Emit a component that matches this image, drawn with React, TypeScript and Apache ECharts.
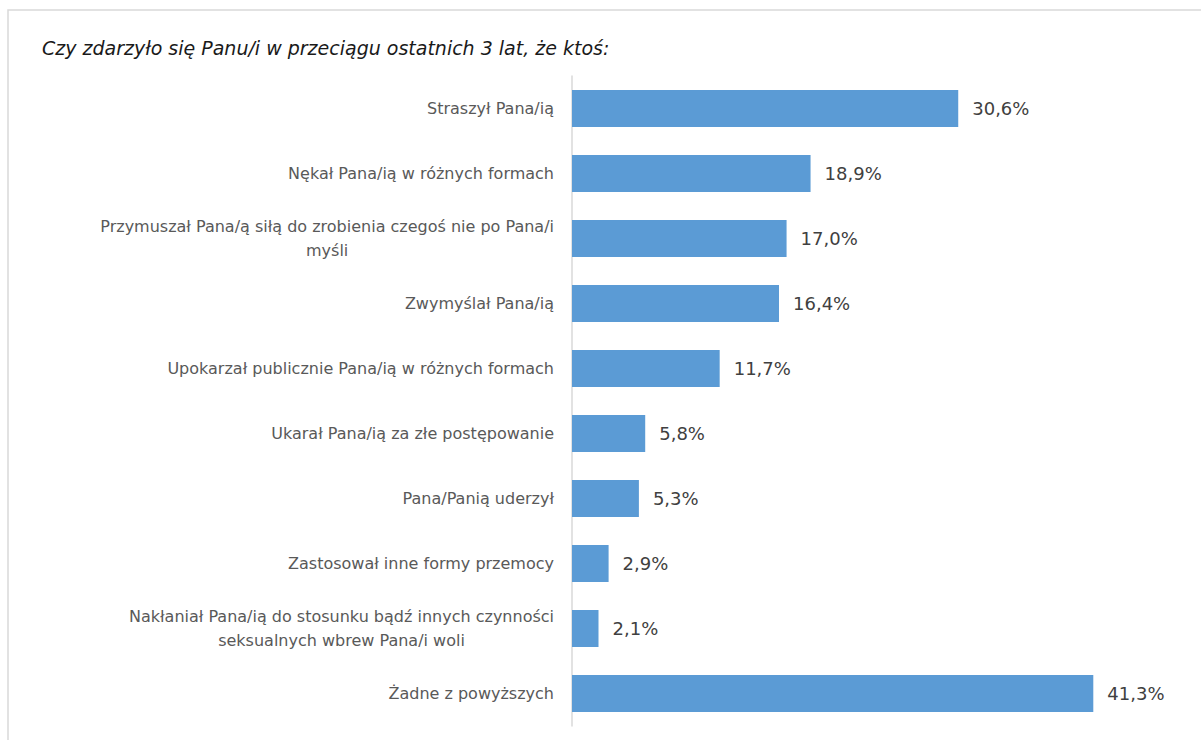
import React, { useEffect, useRef } from "react";
import * as echarts from "echarts";

const titleText = "Czy zdarzyło się Panu/i w przeciągu ostatnich 3 lat, że ktoś:";
const categories = [
  "Straszył Pana/ią",
  "Nękał Pana/ią w różnych formach",
  "Przymuszał Pana/ą siłą do zrobienia czegoś nie po Pana/i\nmyśli",
  "Zwymyślał Pana/ią",
  "Upokarzał publicznie Pana/ią w różnych formach",
  "Ukarał Pana/ią za złe postępowanie",
  "Pana/Panią uderzył",
  "Zastosował inne formy przemocy",
  "Nakłaniał Pana/ią do stosunku bądź innych czynności\nseksualnych wbrew Pana/i woli",
  "Żadne z powyższych",
];
const values = [30.6, 18.9, 17.0, 16.4, 11.7, 5.8, 5.3, 2.9, 2.1, 41.3];

const FONT = "'DejaVu Sans', 'Open Sans', sans-serif";

export default function App() {
  const ref = useRef<HTMLDivElement>(null);
  useEffect(() => {
    if (!ref.current) return;
    const chart = echarts.init(ref.current, null, { renderer: "svg" });
    chart.setOption({
      animation: false,
      backgroundColor: "#ffffff",
      graphic: [
        {
          type: "rect",
          shape: { x: 8, y: 10, width: 1300, height: 800 },
          style: { fill: "none", stroke: "#d9d9d9", lineWidth: 1.5 },
          silent: true,
        },
        {
          type: "text",
          x: 42,
          y: 48,
          style: {
            text: titleText,
            font: `italic 19px ${FONT}`,
            fill: "#1a1a1a",
            textVerticalAlign: "middle",
          },
        },
      ],
      grid: { left: 572, top: 76, height: 650, width: 568 },
      xAxis: {
        type: "value",
        min: 0,
        max: 45,
        show: false,
        splitLine: { show: false },
      },
      yAxis: {
        type: "category",
        data: categories,
        inverse: true,
        axisLine: { show: true, lineStyle: { color: "#d9d9d9", width: 1.5 } },
        axisTick: { show: false },
        axisLabel: {
          margin: 18,
          color: "#595959",
          fontFamily: FONT,
          fontSize: 16,
          lineHeight: 24,
          formatter: (v: string) => (v.includes("\n") ? `{c|${v}}` : v),
          rich: {
            c: {
              align: "center",
              color: "#595959",
              fontFamily: FONT,
              fontSize: 16,
              lineHeight: 24,
            },
          },
        },
      },
      series: [
        {
          type: "bar",
          data: values,
          barWidth: 37,
          itemStyle: { color: "#5b9bd5" },
          label: {
            show: true,
            position: "right",
            distance: 14,
            color: "#404040",
            fontFamily: FONT,
            fontSize: 18,
            formatter: (p: any) => p.value.toFixed(1).replace(".", ",") + "%",
          },
        },
      ],
    });
    return () => chart.dispose();
  }, []);
  return (
    <div
      ref={ref}
      style={{ position: "absolute", left: 0, top: 0, width: 1201, height: 740 }}
    />
  );
}
